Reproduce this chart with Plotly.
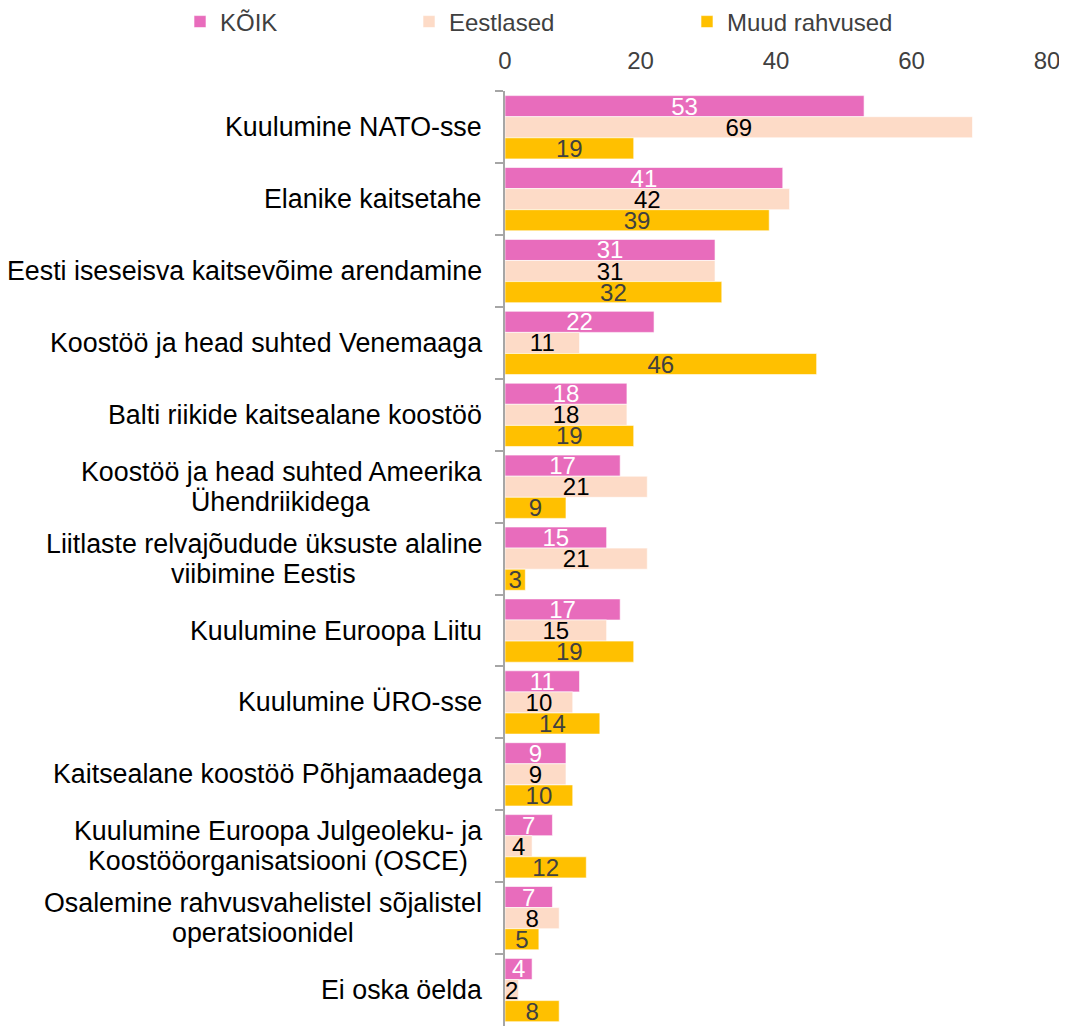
import plotly.graph_objects as go

categories = [
    "Kuulumine NATO-sse",
    "Elanike kaitsetahe",
    "Eesti iseseisva kaitsevõime arendamine",
    "Koostöö ja head suhted Venemaaga",
    "Balti riikide kaitsealane koostöö",
    "Koostöö ja head suhted Ameerika<br>Ühendriikidega",
    "Liitlaste relvajõudude üksuste alaline<br>viibimine Eestis",
    "Kuulumine Euroopa Liitu",
    "Kuulumine ÜRO-sse",
    "Kaitsealane koostöö Põhjamaadega",
    "Kuulumine Euroopa Julgeoleku- ja<br>Koostööorganisatsiooni (OSCE)",
    "Osalemine rahvusvahelistel sõjalistel<br>operatsioonidel",
    "Ei oska öelda",
]
koik = [53, 41, 31, 22, 18, 17, 15, 17, 11, 9, 7, 7, 4]
eestlased = [69, 42, 31, 11, 18, 21, 21, 15, 10, 9, 4, 8, 2]
muud = [19, 39, 32, 46, 19, 9, 3, 19, 14, 10, 12, 5, 8]
x_ticks = [0, 20, 40, 60, 80]

FONT = "Liberation Sans, Arial, sans-serif"
W, H = 1059, 1021  # page body has an 8px margin

# Liberation Sans / Arial advance widths (per 1000 em), used to centre
# the lines of two-line category labels on each other
CHAR_W = {
    "a": 556, "b": 556, "c": 500, "d": 556, "e": 556, "g": 556, "h": 556,
    "i": 222, "j": 222, "k": 500, "l": 222, "m": 833, "n": 556, "o": 556,
    "p": 556, "r": 333, "s": 500, "t": 278, "u": 556, "v": 500,
    "ö": 556, "õ": 556, "ü": 556, " ": 278, "-": 333, "(": 333, ")": 333,
    "A": 667, "C": 722, "E": 667, "J": 500, "K": 667, "L": 556, "O": 778,
    "S": 667, "Ü": 722, "N": 722, "T": 611,
}


def text_width(s, size):
    return sum(CHAR_W.get(ch, 556) for ch in s) / 1000 * size


series = [
    ("KÕIK", koik, "#E86CBC", "#FFFFFF", "legend"),
    ("Eestlased", eestlased, "#FDDBC7", "#000000", "legend2"),
    ("Muud rahvused", muud, "#FFC000", "#404040", "legend3"),
]

fig = go.Figure()
for name, vals, color, tcolor, lg in series:
    fig.add_trace(go.Bar(
        name=name, y=categories, x=vals, orientation="h",
        marker=dict(color=color, line=dict(color="rgba(255,255,255,0.6)", width=1)),
        text=[str(v) for v in vals], textposition="inside",
        insidetextanchor="middle", constraintext="none", textangle=0,
        textfont=dict(family=FONT, size=24, color=tcolor),
        legend=lg, showlegend=True, hoverinfo="x+y+name",
    ))

LABEL_SIZE = 26.8
LINE_GAP = 30
BASE_SHIFT = -21
annotations = []
for c in categories:
    lines = c.split("<br>")
    n = len(lines)
    widths = [text_width(ln, LABEL_SIZE) for ln in lines]
    wmax = max(widths)
    for i, ln in enumerate(lines):
        annotations.append(dict(
            x=0, xref="paper", y=c, yref="y", xanchor="right", yanchor="middle",
            xshift=BASE_SHIFT - (wmax - widths[i]) / 2,
            yshift=((n - 1) / 2 - i) * LINE_GAP,
            text=ln, showarrow=False,
            font=dict(family=FONT, size=LABEL_SIZE, color="#000000"),
        ))

leg_common = dict(orientation="h", xref="container", yref="container",
                  yanchor="middle", y=1 - 14 / H, bgcolor="rgba(0,0,0,0)",
                  font=dict(family=FONT, size=24, color="#404040"))

fig.update_layout(
    width=W, height=H,
    margin=dict(l=497, r=20, t=82, b=3),
    paper_bgcolor="white", plot_bgcolor="white",
    barmode="group", bargap=0.12, bargroupgap=0,
    showlegend=True,
    font=dict(family=FONT, size=24, color="#404040"),
    annotations=annotations,
    legend=dict(x=172 / W, xanchor="left", **leg_common),
    legend2=dict(x=401 / W, xanchor="left", **leg_common),
    legend3=dict(x=679 / W, xanchor="left", **leg_common),
    xaxis=dict(side="top", range=[0, 80], tickvals=x_ticks, showgrid=False,
               zeroline=False, showline=False, ticks="",
               tickfont=dict(family=FONT, size=24, color="#404040"),
               ticklabelstandoff=16),
    yaxis=dict(autorange=False, range=[len(categories) - 0.5, -0.5],
               showticklabels=False, showline=True, linecolor="#A6A6A6",
               linewidth=1.5, ticks="outside", tickson="boundaries",
               ticklen=8, tickcolor="#A6A6A6", tickwidth=1.5, showgrid=False),
)

fig.write_html("out.html")
